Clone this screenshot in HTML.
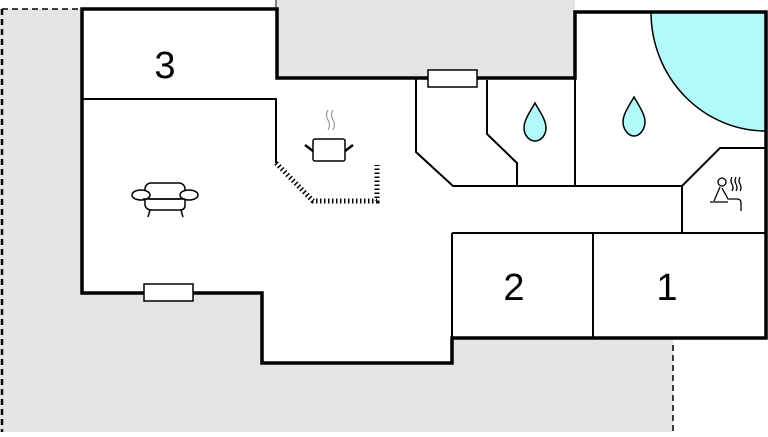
<!DOCTYPE html>
<html><head><style>html,body{margin:0;padding:0;background:#fff;overflow:hidden}</style></head><body>
<svg width="768" height="432" viewBox="0 0 768 432" xmlns="http://www.w3.org/2000/svg">
<rect x="0" y="0" width="768" height="432" fill="#e4e4e4"/>
<rect x="0" y="0" width="277" height="9" fill="#fff"/>
<rect x="575" y="0" width="193" height="12" fill="#fff"/>
<rect x="673" y="338" width="95" height="94" fill="#fff"/>
<line x1="2" y1="9" x2="82" y2="9" stroke="#000" stroke-width="1.5" stroke-dasharray="6,4"/>
<line x1="2" y1="9" x2="2" y2="432" stroke="#000" stroke-width="2.5" stroke-dasharray="6,4"/>
<line x1="673" y1="345" x2="673" y2="432" stroke="#000" stroke-width="1.5" stroke-dasharray="6,4"/>
<line x1="276" y1="0" x2="276" y2="9" stroke="#000" stroke-width="1"/>
<polygon points="82,9 277,9 277,78 575,78 575,12 766,12 766,338 452,338 452,363 262,363 262,293 82,293" fill="#fff"/>
<path d="M651,12 A115,119 0 0 0 766,131 L766,12 Z" fill="#b2f9fb" stroke="#000" stroke-width="1.5"/>
<g stroke="#000" stroke-width="2" fill="none">
<line x1="82" y1="99" x2="277" y2="99"/>
<line x1="276" y1="99" x2="276" y2="163"/>
<polyline points="416,78 416,152 453,186 682,186"/>
<polyline points="487,80 487,134 517,163 517,186"/>
<line x1="575" y1="78" x2="575" y2="186"/>
<polyline points="682,186 720,148 766,148"/>
<line x1="682" y1="186" x2="682" y2="233"/>
<line x1="452" y1="233" x2="766" y2="233"/>
<line x1="452" y1="233" x2="452" y2="338"/>
<line x1="593" y1="233" x2="593" y2="338"/>
</g>
<polyline points="276,163 313,201 377,201 377,165" fill="none" stroke="#000" stroke-width="5" stroke-dasharray="1.5,2.5"/>
<polygon points="82,9 277,9 277,78 575,78 575,12 766,12 766,338 452,338 452,363 262,363 262,293 82,293" fill="none" stroke="#000" stroke-width="3.5"/>
<rect x="144" y="284" width="49" height="17" fill="#fff" stroke="#000" stroke-width="1.5"/>
<rect x="428" y="70" width="49" height="17" fill="#fff" stroke="#000" stroke-width="1.5"/>
<g fill="#b2f9fb" stroke="#000" stroke-width="1.5">
<path d="M535,103 C530,112 524,120 524,128 C524,135 529,141 535,141 C541,141 546,135 546,128 C546,120 540,112 535,103 Z"/>
<path d="M634,97 C629,106 623,114 623,122 C623,129 628,136 634,136 C640,136 645,129 645,122 C645,114 639,106 634,97 Z"/>
</g>
<g fill="none" stroke="#000" stroke-width="1.5">
<rect x="145" y="183" width="40" height="16" rx="6"/>
<ellipse cx="141" cy="195" rx="9" ry="5" fill="#fff"/>
<ellipse cx="189" cy="195" rx="9" ry="5" fill="#fff"/>
<path d="M145,200 L145,205 Q146,210 152,210 L180,210 Q185,210 185,205 L185,200"/>
<line x1="143" y1="199" x2="185" y2="199"/>
<line x1="150" y1="210" x2="148" y2="217"/><line x1="181" y1="210" x2="183" y2="217"/>
<rect x="313" y="139" width="32" height="22" rx="2"/>
<path d="M305,145 L313,151 M353,145 L345,151" stroke-width="2.5"/>
</g>
<g fill="none" stroke="#999" stroke-width="1.2">
<path d="M328,110 q-3,5 0,10 q3,5 0,10"/><path d="M333,110 q-3,5 0,10 q3,5 0,10"/>
</g>
<g fill="none" stroke="#000" stroke-width="1.3">
<circle cx="722" cy="182" r="4"/>
<path d="M720,187 L714,201 M722,188 L728,199 L737,199 Q741,199 741,203 L741,211"/>
<line x1="710" y1="202" x2="728" y2="202"/>
<path d="M732,177 q-2,4 0,7 q2,4 0,7 M736,177 q-2,4 0,7 q2,4 0,7 M740,177 q-2,4 0,7 q2,4 0,7"/>
</g>
<g font-family="Liberation Sans, sans-serif" font-size="38" text-anchor="middle" fill="#000">
<text x="165" y="78">3</text>
<text x="514" y="300">2</text>
<text x="667" y="300">1</text>
</g>
</svg>
</body></html>
